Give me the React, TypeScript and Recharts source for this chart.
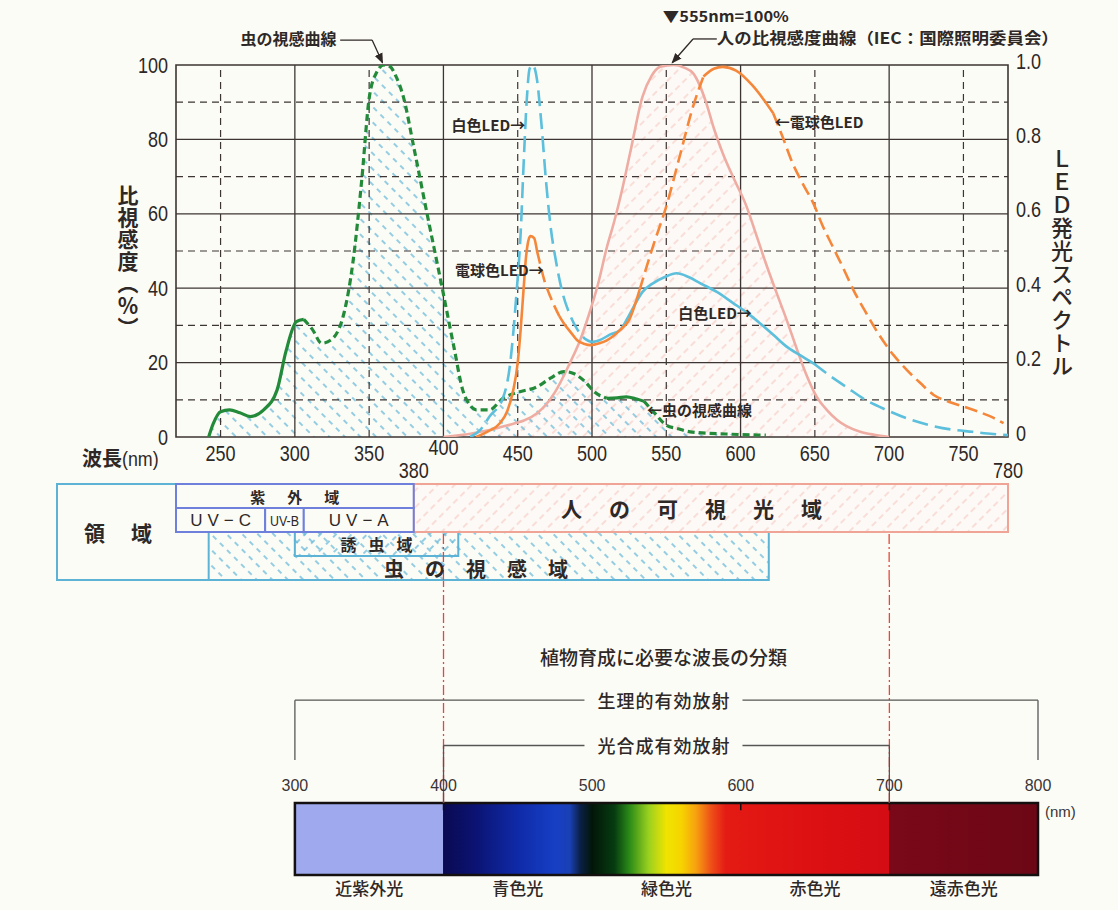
import React from 'react';
import {
  ComposedChart,
  Line,
  Area,
  XAxis,
  YAxis,
  ReferenceLine,
  ReferenceArea,
  ReferenceDot,
} from 'recharts';

// ---- curves (wavelength nm, value) ----
// insect spectral sensitivity, % (left axis)
const insectCurve: [number, number][] = [
  [242, 0], [245, 3.5], [250, 6.8], [256, 7.3], [263, 6.5], [270, 5.5], [279, 7.3],
  [288, 12.6], [294, 23], [301, 31], [306, 31.6], [312, 28.8], [318, 25.2], [324, 26],
  [333, 33.2], [339, 46.7], [345, 69], [350, 91], [355, 98], [360, 100], [364, 99.6],
  [368, 97], [373, 91.5], [380, 78], [389, 60], [399, 40.4], [407, 24.3], [413, 12.6],
  [418, 8.5], [422, 7.3], [431, 7.3], [440, 10.4], [450, 12], [463, 13.5], [472, 15.8],
  [481, 17.6], [488, 17], [495, 15], [502, 12], [510, 10.4], [517, 10.5], [523, 10.8],
  [530, 10.2], [535, 9.6], [542, 6.5], [550, 3.2], [558, 2.2], [566, 1.4], [590, 0.8],
  [617, 0.5],
];
// human relative luminous efficiency, % (left axis)
const humanCurve: [number, number][] = [
  [400, 0], [420, 1], [440, 2.8], [463, 6.4], [475, 12], [485, 19.8], [492, 26],
  [498, 33], [504, 41], [510, 51], [515, 58], [520, 66], [526, 77], [534, 91.5],
  [540, 97], [546, 99.5], [555, 100], [562, 99.3], [568, 97.8], [572, 95], [577, 89.7],
  [582, 83], [588, 76.3], [596, 69], [604, 62], [610, 55], [617, 46.7], [624, 39],
  [631, 31.5], [638, 23.5], [644, 17], [651, 11], [658, 7.3], [665, 4.6], [671, 3],
  [680, 1.5], [690, 0.6], [700, 0],
];
// white LED spectrum, 0-1 (right axis)
const whiteLed: [number, number][] = [
  [418, 0], [425, 0.02], [431, 0.055], [440, 0.104], [445, 0.2], [449, 0.377],
  [452, 0.55], [454, 0.736], [456, 0.9], [458, 0.99], [460, 1.0], [463, 0.96],
  [466, 0.84], [469, 0.69], [472, 0.57], [476, 0.467], [480, 0.39], [485, 0.33],
  [490, 0.29], [495, 0.265], [500, 0.255], [505, 0.26], [512, 0.275], [519, 0.288],
  [524, 0.32], [528, 0.35], [534, 0.39], [541, 0.413], [549, 0.43], [557, 0.44],
  [565, 0.43], [573, 0.413], [584, 0.39], [595, 0.36], [604, 0.335], [613, 0.306],
  [622, 0.275], [631, 0.243], [640, 0.22], [649, 0.198], [660, 0.165], [671, 0.135],
  [684, 0.1], [698, 0.073], [712, 0.05], [727, 0.032], [742, 0.02], [756, 0.014],
  [770, 0.008], [780, 0.005],
];
// bulb-colour LED spectrum, 0-1 (right axis)
const bulbLed: [number, number][] = [
  [422, 0], [430, 0.015], [438, 0.037], [443, 0.07], [447, 0.126], [450, 0.2],
  [452, 0.29], [454, 0.4], [455.5, 0.48], [457, 0.525], [458.5, 0.54], [461, 0.535],
  [463, 0.5], [465, 0.467], [468, 0.42], [472, 0.377], [478, 0.325], [481, 0.306],
  [486, 0.28], [490, 0.26], [495, 0.25], [499, 0.247], [505, 0.252], [510, 0.26],
  [519, 0.288], [525, 0.315], [532, 0.395], [541, 0.512], [550, 0.62], [559, 0.754],
  [568, 0.888], [575, 0.969], [582, 0.99], [588, 0.995], [597, 0.985], [608, 0.945],
  [615, 0.91], [622, 0.87], [628, 0.81], [635, 0.736], [642, 0.68], [649, 0.628],
  [655, 0.57], [662, 0.512], [669, 0.455], [676, 0.395], [685, 0.33], [694, 0.27],
  [703, 0.22], [712, 0.18], [721, 0.145], [730, 0.113], [740, 0.095], [750, 0.082],
  [760, 0.068], [770, 0.052], [777, 0.037],
];

// wavelength ranges where each curve is drawn solid (dashed elsewhere)
const insectSolid: [number, number][] = [[242, 306], [510, 535]];
const whiteSolid: [number, number][] = [[500, 649]];
const bulbSolid: [number, number][] = [[422, 463], [478, 532], [575, 622]];

// ---- axes ----
const xTicks = [250, 300, 350, 380, 400, 450, 500, 550, 600, 650, 700, 750, 780];
const xTicksLow = [380, 780];
const leftTicks = [0, 20, 40, 60, 80, 100];
const rightTicks = [0, 0.2, 0.4, 0.6, 0.8, 1];
const gridMajorX = [300, 400, 500, 600, 700];
const gridMinorX = [250, 350, 450, 550, 650, 750];
const gridMajorY = [20, 40, 60, 80];
const gridMinorY = [10, 30, 50, 70, 90];

// ---- region table ----
const uvBands = [
  { name: 'UV−C', from: 220, to: 280 },
  { name: 'UV-B', from: 280, to: 306 },
  { name: 'UV−A', from: 306, to: 380 },
];
const uvRange = { name: '紫外域', from: 220, to: 380 };
const visibleRange = { name: '人の可視光域', from: 380, to: 780 };
const insectRange = { name: '虫の視感域', from: 242, to: 619 };
const attractRange = { name: '誘虫域', from: 300, to: 410 };
const parLines = [400, 700];

// ---- plant growth spectrum ----
const scaleTicks = [300, 400, 500, 600, 700, 800];
const bandEdges = [300, 400, 500, 600, 700, 800];
const bandNames = ['近紫外光', '青色光', '緑色光', '赤色光', '遠赤色光'];
const barTicks = [400, 600, 700];
const pprRange = { name: '生理的有効放射', from: 300, to: 800 };
const parRange = { name: '光合成有効放射', from: 400, to: 700 };
const spectrumStops: [number, string][] = [
  [300, '#9ea9ee'], [399.6, '#9ea9ee'], [400, '#0a0a52'], [420, '#0b1270'],
  [450, '#0f2aa8'], [475, '#163fc4'], [485, '#1a40b4'], [492, '#0a2048'],
  [500, '#021608'], [515, '#063c10'], [525, '#2a8a18'], [538, '#9ad020'],
  [550, '#f0e400'], [560, '#f6d400'], [570, '#f7a010'], [580, '#ee5018'],
  [590, '#e41a14'], [650, '#dc1012'], [699.6, '#d40c14'], [700, '#7a0818'],
  [800, '#6c0716'],
];

// ---- styles ----
const PAGE = '#fcfcf7';
const INK = '#2e2826';
const GRID = '#3d3533';
const GREEN = '#238a3a';
const BLUE = '#5cbfdc';
const ORANGE = '#f5873a';
const PINK = '#eeaca2';
const VIOLET = '#6f80dc';
const TEAL = '#5cb3d6';
const RED = '#e8463c';
const FONT_NUM = "'Liberation Sans', sans-serif";
const FONT_JP = "'Noto Sans CJK JP', sans-serif";

// y positions (domain units) inside the helper charts
const LV = { top: 4.1, bar: 1, ppr: 2.43, pprFoot: 1.6, par: 1.8, scale: 1.25, title: 3.04, nm: 0.88 };

type Pt = { wl: number; v: number };
const toPts = (arr: [number, number][]): Pt[] => arr.map(([wl, v]) => ({ wl, v }));

function runs(pts: Pt[], solid: [number, number][]) {
  const out: { solid: boolean; pts: Pt[] }[] = [];
  for (let i = 1; i < pts.length; i++) {
    const mid = (pts[i - 1].wl + pts[i].wl) / 2;
    const s = solid.some(([a, b]) => mid >= a && mid <= b);
    const last = out[out.length - 1];
    if (last && last.solid === s) last.pts.push(pts[i]);
    else out.push({ solid: s, pts: [pts[i - 1], pts[i]] });
  }
  return out;
}

type TextOpts = {
  size?: number;
  weight?: number;
  anchor?: 'start' | 'middle' | 'end';
  spacing?: number;
  family?: string;
  fill?: string;
  bg?: number;
  dx?: number;
  squeeze?: number;
};

function textAt(label: string, o: TextOpts = {}) {
  return (p: { cx?: number; cy?: number }) => {
    const cx = p.cx ?? 0;
    const cy = p.cy ?? 0;
    const ls = o.spacing ?? 0;
    const anchor = o.anchor ?? 'middle';
    return (
      <g>
        {o.bg ? <rect x={cx - o.bg / 2} y={cy - 13} width={o.bg} height={26} fill={PAGE} /> : null}
        <text
          x={cx + (o.dx ?? 0) + (anchor === 'middle' ? ls / 2 : 0)}
          y={cy}
          dominantBaseline="central"
          textAnchor={anchor}
          fontSize={o.size ?? 15}
          fontWeight={o.weight ?? 700}
          fontFamily={o.family ?? FONT_JP}
          fill={o.fill ?? INK}
          letterSpacing={ls || undefined}
          textLength={o.squeeze}
          lengthAdjust={o.squeeze ? 'spacingAndGlyphs' : undefined}
        >
          {label}
        </text>
      </g>
    );
  };
}

const arrowShape = (p: any) => (
  <line x1={p.x1} y1={p.y1} x2={p.x2} y2={p.y2} stroke={INK} strokeWidth={1.3} markerEnd="url(#arrowHead)" />
);

// condensed numeric label, like the original typeface
function NumText({ x, y, anchor, children }: { x: number; y: number; anchor: 'start' | 'middle' | 'end'; children: React.ReactNode }) {
  return (
    <text
      transform={`translate(${x},${y}) scale(0.82,1)`}
      dominantBaseline="central"
      textAnchor={anchor}
      fontSize={22}
      fontFamily={FONT_NUM}
      fill={INK}
    >
      {children}
    </text>
  );
}

function XTick(p: any) {
  const v = p.payload.value as number;
  const shift = xTicksLow.includes(v) ? 17 : v === 400 ? -6 : 0;
  return <NumText x={p.x} y={p.y + 8 + shift} anchor="middle">{v}</NumText>;
}

function LeftTick(p: any) {
  return <NumText x={p.x} y={p.y} anchor="end">{p.payload.value}</NumText>;
}

function RightTick(p: any) {
  const v = p.payload.value as number;
  return <NumText x={p.x} y={p.y - 4} anchor="start">{v === 0 ? '0' : v.toFixed(1)}</NumText>;
}

function BandTick(p: any) {
  return (
    <text x={p.x} y={p.y} dy="0.71em" textAnchor="middle" fontSize={17} fontWeight={500} fontFamily={FONT_JP} fill={INK}>
      {bandNames[p.index]}
    </text>
  );
}

function Defs() {
  return (
    <svg width={0} height={0} style={{ position: 'absolute' }}>
      <defs>
        <pattern id="hatchBlue" width={11} height={10} patternUnits="userSpaceOnUse" patternTransform="rotate(-45)">
          <line x1={1} y1={0} x2={1} y2={10} stroke={TEAL} strokeWidth={1.3} strokeDasharray="5 5" />
        </pattern>
        <pattern id="hatchBlue2" width={11} height={10} patternUnits="userSpaceOnUse" patternTransform="rotate(45)">
          <line x1={1} y1={0} x2={1} y2={10} stroke={TEAL} strokeWidth={1.3} strokeDasharray="5 5" />
        </pattern>
        <pattern id="hatchPink" width={12} height={10} patternUnits="userSpaceOnUse" patternTransform="rotate(45)">
          <rect width={12} height={10} fill="#fdf9f6" />
          <line x1={1} y1={0} x2={1} y2={10} stroke="#f6c4bb" strokeWidth={1} strokeDasharray="6 4" />
        </pattern>
        <linearGradient id="spectrum" x1="0" y1="0" x2="1" y2="0">
          {spectrumStops.map(([wl, c]) => (
            <stop key={wl} offset={(wl - 300) / 500} stopColor={c} />
          ))}
        </linearGradient>
        <marker id="arrowHead" viewBox="0 0 10 10" refX={9} refY={5} markerWidth={8} markerHeight={8} orient="auto">
          <path d="M0,1 L10,5 L0,9 z" fill={INK} />
        </marker>
      </defs>
    </svg>
  );
}

function MainChart() {
  const insect = toPts(insectCurve);
  const human = toPts(humanCurve);
  const lines = [
    { key: 'insect', pts: insect, solid: insectSolid, color: GREEN, width: 3.2, dash: '7 4', axis: 'l' },
    { key: 'white', pts: toPts(whiteLed), solid: whiteSolid, color: BLUE, width: 2.6, dash: '16 7', axis: 'r' },
    { key: 'bulb', pts: toPts(bulbLed), solid: bulbSolid, color: ORANGE, width: 2.6, dash: '13 6', axis: 'r' },
  ];
  return (
    <ComposedChart width={1118} height={500} margin={{ top: 65, right: 0, bottom: 33, left: 0 }}>
      <XAxis
        type="number"
        dataKey="wl"
        domain={[220, 780]}
        ticks={xTicks}
        interval={0}
        allowDataOverflow
        axisLine={false}
        tickLine={false}
        height={30}
        tick={XTick}
      />
      <YAxis yAxisId="l" domain={[0, 100]} ticks={leftTicks} width={176} axisLine={false} tickLine={false} tick={LeftTick} allowDataOverflow />
      <YAxis
        yAxisId="r"
        orientation="right"
        domain={[0, 1]}
        ticks={rightTicks}
        width={110}
        axisLine={false}
        tickLine={false}
        tick={RightTick}
        allowDataOverflow
      />

      <Area data={human} yAxisId="l" dataKey="v" type="monotone" fill="url(#hatchPink)" fillOpacity={1} stroke="none" isAnimationActive={false} />
      <Area data={insect} yAxisId="l" dataKey="v" type="monotone" fill="url(#hatchBlue)" fillOpacity={1} stroke="none" isAnimationActive={false} />

      {gridMinorX.map((x) => (
        <ReferenceLine key={`gx${x}`} yAxisId="l" x={x} stroke={GRID} strokeWidth={1.2} strokeDasharray="7 5" />
      ))}
      {gridMinorY.map((y) => (
        <ReferenceLine key={`gy${y}`} yAxisId="l" y={y} stroke={GRID} strokeWidth={1.2} strokeDasharray="7 5" />
      ))}
      {gridMajorX.map((x) => (
        <ReferenceLine key={`Gx${x}`} yAxisId="l" x={x} stroke={GRID} strokeWidth={1.3} />
      ))}
      {gridMajorY.map((y) => (
        <ReferenceLine key={`Gy${y}`} yAxisId="l" y={y} stroke={GRID} strokeWidth={1.3} />
      ))}
      <ReferenceArea yAxisId="l" x1={220} x2={780} y1={0} y2={100} fill="none" stroke={GRID} strokeWidth={1.6} ifOverflow="visible" />

      <Line data={human} yAxisId="l" dataKey="v" type="monotone" stroke={PINK} strokeWidth={2.6} dot={false} isAnimationActive={false} />
      {lines.flatMap((s) =>
        runs(s.pts, s.solid).map((r, i) => (
          <Line
            key={`${s.key}${i}`}
            data={r.pts}
            yAxisId={s.axis}
            dataKey="v"
            type="monotone"
            stroke={s.color}
            strokeWidth={s.width}
            strokeDasharray={r.solid ? undefined : s.dash}
            dot={false}
            isAnimationActive={false}
          />
        )),
      )}

      {/* annotations */}
      <ReferenceDot yAxisId="l" x={328} y={107.3} r={0} ifOverflow="visible" shape={textAt('虫の視感曲線', { anchor: 'end', size: 16 })} />
      <ReferenceLine yAxisId="l" ifOverflow="visible" segment={[{ x: 330.5, y: 106.7 }, { x: 352, y: 106.7 }]} stroke={INK} strokeWidth={1.3} />
      <ReferenceLine yAxisId="l" ifOverflow="visible" segment={[{ x: 352, y: 106.7 }, { x: 359, y: 100.6 }]} shape={arrowShape} />

      <ReferenceDot yAxisId="l" x={547.7} y={113.2} r={0} ifOverflow="visible" shape={textAt('▼555nm=100%', { anchor: 'start', size: 15, squeeze: 126 })} />
      <ReferenceDot yAxisId="l" x={584} y={107.4} r={0} ifOverflow="visible" shape={textAt('人の比視感度曲線（IEC：国際照明委員会）', { anchor: 'start', size: 16, squeeze: 342 })} />
      <ReferenceLine yAxisId="l" ifOverflow="visible" segment={[{ x: 584, y: 107 }, { x: 568, y: 107 }]} stroke={INK} strokeWidth={1.3} />
      <ReferenceLine yAxisId="l" ifOverflow="visible" segment={[{ x: 568, y: 107 }, { x: 554, y: 100.6 }]} shape={arrowShape} />

      <ReferenceDot yAxisId="l" x={455} y={84} r={0} ifOverflow="visible" shape={textAt('白色LED→', { anchor: 'end', size: 15 })} />
      <ReferenceDot yAxisId="l" x={467.5} y={44.9} r={0} ifOverflow="visible" shape={textAt('電球色LED→', { anchor: 'end', size: 15 })} />
      <ReferenceDot yAxisId="l" x={623} y={84.7} r={0} ifOverflow="visible" shape={textAt('←電球色LED', { anchor: 'start', size: 15 })} />
      <ReferenceDot yAxisId="l" x={607.6} y={33.6} r={0} ifOverflow="visible" shape={textAt('白色LED→', { anchor: 'end', size: 15 })} />
      <ReferenceDot yAxisId="l" x={537} y={7.3} r={0} ifOverflow="visible" shape={textAt('←虫の視感曲線', { anchor: 'start', size: 15 })} />
    </ComposedChart>
  );
}

function RegionChart() {
  const mid = (r: { from: number; to: number }) => (r.from + r.to) / 2;
  return (
    <ComposedChart width={1118} height={110} margin={{ top: 4, right: 110, bottom: 10, left: 176 }}>
      <XAxis type="number" dataKey="wl" domain={[220, 780]} allowDataOverflow hide />
      <YAxis domain={[0, 4]} allowDataOverflow hide />
      <ReferenceArea x1={insectRange.from} x2={insectRange.to} y1={0} y2={2} fill="url(#hatchBlue)" fillOpacity={1} stroke={TEAL} strokeWidth={2} ifOverflow="visible" />
      <ReferenceArea x1={attractRange.from} x2={attractRange.to} y1={1} y2={2} fill="url(#hatchBlue2)" fillOpacity={1} stroke={TEAL} strokeWidth={2} ifOverflow="visible" />
      <ReferenceArea x1={visibleRange.from} x2={visibleRange.to} y1={2} y2={4} fill="url(#hatchPink)" fillOpacity={1} stroke="#f0a496" strokeWidth={2} ifOverflow="visible" />
      <ReferenceArea x1={uvRange.from} x2={uvRange.to} y1={3} y2={4} fill={PAGE} fillOpacity={1} stroke={VIOLET} strokeWidth={2} ifOverflow="visible" />
      {uvBands.map((b) => (
        <ReferenceArea key={b.name} x1={b.from} x2={b.to} y1={2} y2={3} fill={PAGE} fillOpacity={1} stroke={VIOLET} strokeWidth={2} ifOverflow="visible" />
      ))}
      {parLines.map((x) => (
        <ReferenceLine key={x} segment={[{ x, y: 0 }, { x, y: 2 }]} stroke={RED} strokeWidth={1.3} strokeDasharray="10 3 2 3" ifOverflow="visible" />
      ))}

      <ReferenceDot x={mid(uvRange)} y={3.5} r={0} ifOverflow="visible" shape={textAt(uvRange.name, { size: 15, spacing: 22 })} />
      {uvBands.map((b) => (
        <ReferenceDot
          key={`t${b.name}`}
          x={mid(b)}
          y={2.5}
          r={0}
          ifOverflow="visible"
          shape={textAt(b.name, b.name === 'UV-B' ? { size: 15, weight: 500, family: FONT_NUM, squeeze: 29 } : { size: 17, weight: 500, family: FONT_NUM, spacing: 5 })}
        />
      ))}
      <ReferenceDot x={mid(attractRange)} y={1.5} r={0} ifOverflow="visible" shape={textAt(attractRange.name, { size: 16, spacing: 12 })} />
      <ReferenceDot x={422} y={0.5} r={0} ifOverflow="visible" shape={textAt(insectRange.name, { size: 20, spacing: 21 })} />
      <ReferenceDot x={567} y={3} r={0} ifOverflow="visible" shape={textAt(visibleRange.name, { size: 21, spacing: 27 })} />
    </ComposedChart>
  );
}

function PlantChart() {
  const centers = bandEdges.slice(0, -1).map((e, i) => (e + bandEdges[i + 1]) / 2);
  return (
    <ComposedChart width={1118} height={330} margin={{ top: 0, right: 80, bottom: 0, left: 176 }}>
      <XAxis type="number" dataKey="wl" domain={[220, 800]} ticks={centers} interval={0} allowDataOverflow axisLine={false} tickLine={false} height={35} tick={BandTick} />
      <YAxis domain={[0, LV.top]} allowDataOverflow hide />

      {parLines.map((x) => (
        <ReferenceLine key={x} segment={[{ x, y: LV.bar }, { x, y: LV.top }]} stroke={RED} strokeWidth={1.3} strokeDasharray="10 3 2 3" ifOverflow="visible" />
      ))}

      <ReferenceLine segment={[{ x: pprRange.from, y: LV.ppr }, { x: pprRange.to, y: LV.ppr }]} stroke="#555" strokeWidth={1.3} />
      <ReferenceLine segment={[{ x: pprRange.from, y: LV.ppr }, { x: pprRange.from, y: LV.pprFoot }]} stroke="#555" strokeWidth={1.3} />
      <ReferenceLine segment={[{ x: pprRange.to, y: LV.ppr }, { x: pprRange.to, y: LV.pprFoot }]} stroke="#555" strokeWidth={1.3} />
      <ReferenceLine segment={[{ x: parRange.from, y: LV.par }, { x: parRange.to, y: LV.par }]} stroke="#555" strokeWidth={1.3} />
      <ReferenceLine segment={[{ x: parRange.from, y: LV.par }, { x: parRange.from, y: LV.bar }]} stroke="#555" strokeWidth={1.3} />
      <ReferenceLine segment={[{ x: parRange.to, y: LV.par }, { x: parRange.to, y: LV.bar }]} stroke="#555" strokeWidth={1.3} />

      <ReferenceArea x1={bandEdges[0]} x2={bandEdges[bandEdges.length - 1]} y1={0} y2={LV.bar} fill="url(#spectrum)" fillOpacity={1} stroke="#151010" strokeWidth={2.5} ifOverflow="visible" />
      {barTicks.map((x) => (
        <ReferenceLine key={`bt${x}`} segment={[{ x, y: LV.bar }, { x, y: LV.bar - 0.1 }]} stroke="#111" strokeWidth={1.5} />
      ))}

      <ReferenceDot x={548} y={LV.title} r={0} ifOverflow="visible" shape={textAt('植物育成に必要な波長の分類', { size: 19, weight: 500 })} />
      <ReferenceDot x={548} y={LV.ppr} r={0} ifOverflow="visible" shape={textAt(pprRange.name, { size: 18, weight: 500, bg: 158, spacing: 1 })} />
      <ReferenceDot x={548} y={LV.par} r={0} ifOverflow="visible" shape={textAt(parRange.name, { size: 18, weight: 500, bg: 158, spacing: 1 })} />
      {scaleTicks.map((x) => (
        <ReferenceDot key={`s${x}`} x={x} y={LV.scale} r={0} ifOverflow="visible" shape={textAt(String(x), { size: 16, weight: 400, family: FONT_NUM, fill: '#3a3434' })} />
      ))}
      <ReferenceDot x={800} y={LV.nm} r={0} ifOverflow="visible" shape={textAt('(nm)', { size: 15, weight: 400, anchor: 'start', dx: 7, family: FONT_NUM, fill: '#3a3434' })} />
    </ComposedChart>
  );
}

export default function App() {
  return (
    <div style={{ position: 'absolute', left: 0, top: 0, width: 1118, height: 910, background: PAGE, overflow: 'hidden', fontFamily: FONT_JP, color: INK }}>
      <Defs />
      <div style={{ position: 'absolute', left: 0, top: 0 }}>
        <MainChart />
      </div>
      <div style={{ position: 'absolute', left: 0, top: 580 }}>
        <PlantChart />
      </div>
      {/* 領域 header cell */}
      <div style={{ boxSizing: 'border-box', position: 'absolute', left: 56, top: 483, width: 122, height: 98, borderLeft: `2px solid ${TEAL}`, borderTop: `2px solid ${TEAL}`, borderBottom: `2px solid ${TEAL}` }} />
      <div style={{ position: 'absolute', left: 178, top: 579, width: 32, height: 2, background: TEAL }} />
      <div style={{ position: 'absolute', left: 84, top: 517, fontSize: 21, fontWeight: 700, letterSpacing: 26, lineHeight: '30px' }}>領域</div>
      <div style={{ position: 'absolute', left: 0, top: 480 }}>
        <RegionChart />
      </div>

      {/* axis titles */}
      <div style={{ position: 'absolute', left: 116, top: 185, writingMode: 'vertical-rl', fontSize: 21, fontWeight: 700, letterSpacing: 1, lineHeight: '24px' }}>
        比視感度（％）
      </div>
      <div style={{ position: 'absolute', left: 1049, top: 148, writingMode: 'vertical-rl', fontSize: 22, fontWeight: 500, letterSpacing: 1, lineHeight: '26px' }}>
        ＬＥＤ発光スペクトル
      </div>
      <div style={{ position: 'absolute', left: 82, top: 444, fontSize: 20, fontWeight: 700, lineHeight: '28px', whiteSpace: 'nowrap' }}>
        波長<span style={{ display: 'inline-block', transform: 'scaleX(0.85)', transformOrigin: 'left', fontFamily: FONT_NUM, fontWeight: 400, fontSize: 21 }}>(nm)</span>
      </div>
    </div>
  );
}
